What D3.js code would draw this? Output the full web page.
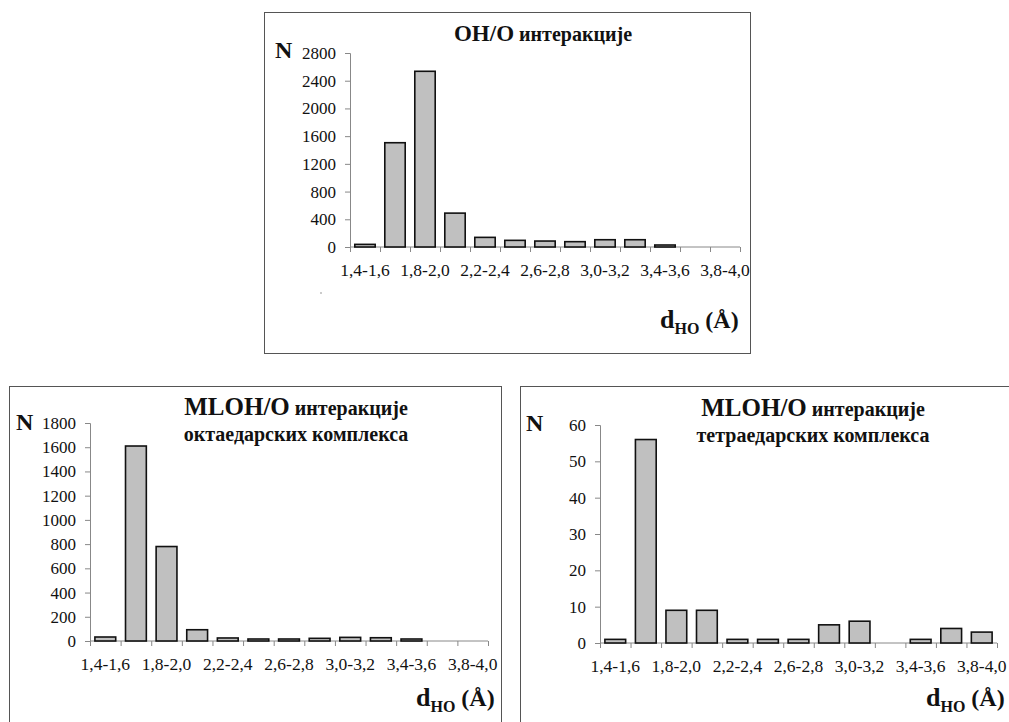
<!DOCTYPE html>
<html>
<head>
<meta charset="utf-8">
<script src="https://cdn.jsdelivr.net/npm/d3@7"></script>
</head>
<body style="margin:0">
<script>
// intervali rastojanja d(H...O)
var intervali = ["1,4-1,6","1,6-1,8","1,8-2,0","2,0-2,2","2,2-2,4","2,4-2,6","2,6-2,8",
                 "2,8-3,0","3,0-3,2","3,2-3,4","3,4-3,6","3,6-3,8","3,8-4,0"];

// broj interakcija po intervalu
var ohO      = [38, 1505, 2536, 489, 139, 96, 86, 77, 105, 105, 24, 0, 0];
var mlohOkt  = [33, 1610, 780, 93, 25, 8, 14, 22, 30, 27, 8, 0, 0];
var mlohTet  = [1, 56, 9, 9, 1, 1, 1, 5, 6, 0, 1, 4, 3];

var tickoviOhO = [0, 400, 800, 1200, 1600, 2000, 2400, 2800];
var tickoviOkt = [0, 200, 400, 600, 800, 1000, 1200, 1400, 1600, 1800];
var tickoviTet = [0, 10, 20, 30, 40, 50, 60];

var naslovOhO = [["OH/O", " интеракције"]];
var naslovOkt = [["MLOH/O", " интеракције"], ["", "октаедарских комплекса"]];
var naslovTet = [["MLOH/O", " интеракције"], ["", "тетраедарских комплекса"]];

var FONT = "Times New Roman";

var svg = d3.select("body").append("svg")
  .attr("width", 1009).attr("height", 722)
  .attr("font-family", FONT);

function tekst(sel){
  return sel.attr("font-family", FONT).attr("fill", "#111");
}

function crtajPanel(p){
  var g = svg.append("g").attr("font-family", FONT);

  g.append("rect")
    .attr("x", p.okvir[0]).attr("y", p.okvir[1])
    .attr("width", p.okvir[2]).attr("height", p.okvir[3])
    .attr("fill","none").attr("stroke","#555").attr("stroke-width",1);

  var x = d3.scaleBand().domain(intervali).range([p.x0, p.x1]).paddingInner(0.32).paddingOuter(0.16);
  var xl = d3.scaleLinear().domain([0, intervali.length]).range([p.x0, p.x1]);
  var y = d3.scaleLinear().domain([0, p.ymax]).range([p.y0, p.y1]);

  // y osa
  var ya = g.append("g")
    .attr("transform","translate("+p.x0+",0)")
    .call(d3.axisLeft(y).tickValues(p.tickovi).tickFormat(d3.format("d")).tickSize(5).tickPadding(9));
  ya.attr("font-family", FONT).attr("font-size", 17);
  ya.selectAll("path, line").attr("stroke","#888");
  tekst(ya.selectAll("text"));

  // x osa - podeoci na granicama intervala
  var xa = g.append("g")
    .attr("transform","translate(0,"+p.y0+")")
    .call(d3.axisBottom(xl).tickValues(d3.range(intervali.length+1)).tickSize(5).tickFormat(""));
  xa.attr("font-family", FONT);
  xa.select("path").attr("d","M"+p.x0+",0H"+p.x1);
  xa.selectAll("path, line").attr("stroke","#888");

  tekst(g.selectAll(".xlab").data(intervali.filter(function(d,i){ return i%2==0; }))
    .enter().append("text"))
    .attr("x", function(d){ return x(d)+x.bandwidth()/2; })
    .attr("y", p.y0+29)
    .attr("text-anchor","middle")
    .attr("font-size", 17.5)
    .text(function(d){ return d; });

  // stubici
  g.selectAll(".stub").data(p.vrednosti.map(function(v,i){ return {k:intervali[i], v:v}; })
      .filter(function(d){ return d.v>0; }))
    .enter().append("rect")
    .attr("fill","#c0c0c0").attr("stroke","#111").attr("stroke-width",1.6)
    .attr("x", function(d){ return x(d.k); })
    .attr("width", x.bandwidth())
    .attr("y", function(d){ return Math.min(y(d.v), p.y0-2); })
    .attr("height", function(d){ return Math.max(p.y0-y(d.v), 2); });

  // naslov
  p.naslov.forEach(function(red,i){
    var t = tekst(g.append("text"))
      .attr("x", p.naslovX).attr("y", p.naslovY + i*26)
      .attr("text-anchor","middle")
      .attr("font-weight","bold");
    if(red[0]) t.append("tspan").attr("font-family", FONT).attr("font-size", p.vel1).text(red[0]);
    t.append("tspan").attr("font-family", FONT).attr("font-size", p.vel2).text(red[1]);
  });

  // N
  tekst(g.append("text")).attr("x", p.nX).attr("y", p.nY)
    .attr("font-size", 24).attr("font-weight","bold").text("N");

  // d_HO (Å)
  var d = tekst(g.append("text")).attr("x", p.dX).attr("y", p.dY)
    .attr("font-weight","bold");
  d.append("tspan").attr("font-size", 26).text("d");
  d.append("tspan").attr("font-size", 16).attr("dy", 6).text("HO");
  d.append("tspan").attr("font-size", 24).attr("dy", -6).text(" (Å)");
}

crtajPanel({
  okvir:[264.5, 12.5, 486, 341], x0:350, x1:740, y0:247, y1:53, ymax:2800,
  tickovi:tickoviOhO, vrednosti:ohO, naslov:naslovOhO,
  naslovX:543, naslovY:41, vel1:23, vel2:20,
  nX:275, nY:58, dX:660, dY:328
});
crtajPanel({
  okvir:[9.5, 386.5, 492, 345], x0:90, x1:488, y0:641, y1:423, ymax:1800,
  tickovi:tickoviOkt, vrednosti:mlohOkt, naslov:naslovOkt,
  naslovX:296, naslovY:415, vel1:25, vel2:20,
  nX:16, nY:430, dX:416, dY:706
});
crtajPanel({
  okvir:[520.5, 386.5, 492, 345], x0:600, x1:997, y0:643, y1:425, ymax:60,
  tickovi:tickoviTet, vrednosti:mlohTet, naslov:naslovTet,
  naslovX:813, naslovY:416, vel1:25, vel2:20,
  nX:526, nY:431, dX:926, dY:706
});

// sitna tacka u prvom panelu (kao na originalu)
svg.append("circle").attr("cx",321).attr("cy",293).attr("r",0.8).attr("fill","#888");
</script>
</body>
</html>
